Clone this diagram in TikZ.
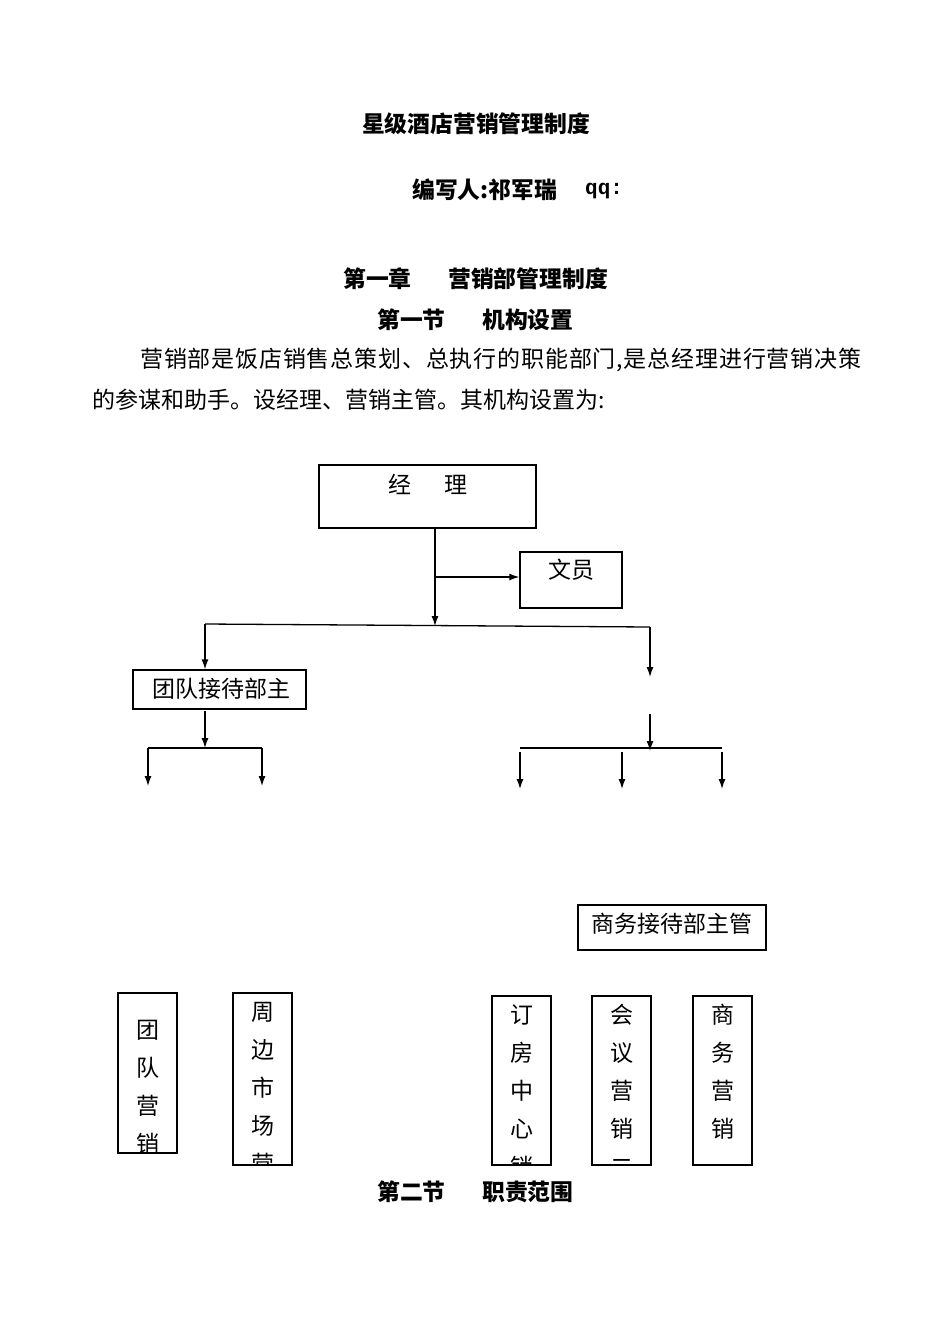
\documentclass[tikz,border=0pt]{standalone}
\usepackage{fontspec}
\setmainfont{Liberation Serif}
\newfontfamily\cjk{Noto Sans CJK SC}
\newfontfamily\cjkls{Noto Sans CJK SC}[LetterSpace=3.6]
\newfontfamily\monof{Liberation Mono}
\usetikzlibrary{arrows.meta,calc}
\tikzset{
  txt/.style={inner sep=0pt, font=\cjk\fontsize{23}{26}\selectfont},
  head/.style={inner sep=0pt, font=\cjk\bfseries\fontsize{22.8}{26}\selectfont},
  hbox/.style={draw, line width=1.3pt, inner sep=0pt},
  vbox/.style={draw, line width=1.3pt, inner sep=0pt, minimum width=59pt},
  con/.style={line width=1.3pt},
  arr/.style={line width=1.3pt, -{Latex[length=10pt,width=7pt]}},
}
\begin{document}
\begin{tikzpicture}[x=1pt,y=-1pt]
\useasboundingbox (0,0) rectangle (950,1344);
% headings
\node[head] (title) at (476,124) {星级酒店营销管理制度};
\node[head, anchor=west] (author) at (412,190) {编写人:祁军瑞};
\node[inner sep=0pt, anchor=west, font=\monof\bfseries\fontsize{21}{26}\selectfont] (qq) at (585,191) {qq:};
\node[head, anchor=west] (ch1a) at (343,279) {第一章};
\node[head, anchor=west] (ch1b) at (448,279) {营销部管理制度};
\node[head, anchor=west] (s1a) at (377,320) {第一节};
\node[head, anchor=west] (s1b) at (482,320) {机构设置};
\node[inner sep=0pt, anchor=west, font=\cjkls\fontsize{23}{26}\selectfont] (p1) at (140,360) {营销部是饭店销售总策划、总执行的职能部门,是总经理进行营销决策};
\node[txt, anchor=west] (p2) at (92,400) {的参谋和助手。设经理、营销主管。其机构设置为:};
% manager
\node[hbox, minimum width=217pt, minimum height=63pt] (jl) at (427.5,496.5) {};
\node[txt] (jlt) at (428,484) {经\hspace{33pt}理};
\node[hbox, minimum width=102pt, minimum height=56pt] (wy) at (571,580) {};
\node[txt] (wyt) at (571,570) {文员};
\coordinate (top) at (435,528);
\coordinate (mid) at (435,626);
\coordinate (wyj) at (435,577);
\draw[arr] (top) -- (mid);
\draw[arr] (wyj) -- (wy.west |- wyj);
\coordinate (hl) at (205,624);
\coordinate (hr) at (650,627);
\draw[con] (hl) -- (hr);
% group reception
\node[hbox, minimum width=173pt, minimum height=39pt] (td) at (219.5,689.5) {};
\node[txt] (tdt) at (221,689) {团队接待部主};
\draw[arr] (hl) -- (td.north -| hl);
\coordinate (rend) at (650,677);
\draw[arr] (hr) -- (rend);
\coordinate (tdb) at (205,711);
\coordinate (tdj) at (205,748);
\draw[arr] (tdb) -- (tdj);
\coordinate (l1) at (148,748);
\coordinate (l2) at (262,748);
\draw[con] (l1) -- (l2);
\coordinate (l1e) at (148,786);
\coordinate (l2e) at (262,786);
\draw[arr] (l1) -- (l1e);
\draw[arr] (l2) -- (l2e);
% business branch
\coordinate (rs) at (650,714);
\coordinate (rj) at (650,751);
\draw[arr] (rs) -- (rj);
\coordinate (r1) at (520,748);
\coordinate (r3) at (722,748);
\draw[con] (r1) -- (r3);
\coordinate (r1s) at (520,752);
\coordinate (r2s) at (622,752);
\coordinate (r3s) at (722,752);
\coordinate (r1e) at (520,789);
\coordinate (r2e) at (622,789);
\coordinate (r3e) at (722,789);
\draw[arr] (r1s) -- (r1e);
\draw[arr] (r2s) -- (r2e);
\draw[arr] (r3s) -- (r3e);
\node[hbox, minimum width=188pt, minimum height=45pt] (sw) at (672,927.5) {};
\node[txt] (swt) at (672,924) {商务接待部主管};
% bottom boxes
\node[vbox, minimum height=160pt] (b1) at (147.5,1073) {};
\begin{scope}
\clip (b1.north west) rectangle (b1.south east);
\foreach \c [count=\i] in {团,队,营,销}
  \node[txt] (b1c\i) at (147.5,992+38*\i) {\c};
\end{scope}
\node[vbox, minimum height=172pt] (b2) at (262.5,1079) {};
\begin{scope}
\clip (b2.north west) rectangle (b2.south east);
\foreach \c [count=\i] in {周,边,市,场,营}
  \node[txt] (b2c\i) at (262.5,974+38*\i) {\c};
\end{scope}
\node[vbox, minimum height=169pt] (b3) at (521.5,1080.5) {};
\begin{scope}
\clip (b3.north west) rectangle (b3.south east);
\foreach \c [count=\i] in {订,房,中,心,销}
  \node[txt] (b3c\i) at (521.5,977+38*\i) {\c};
\end{scope}
\node[vbox, minimum height=169pt] (b4) at (621.5,1080.5) {};
\begin{scope}
\clip (b4.north west) rectangle (b4.south east);
\foreach \c [count=\i] in {会,议,营,销,二}
  \node[txt] (b4c\i) at (621.5,977+38*\i) {\c};
\end{scope}
\node[vbox, minimum height=169pt] (b5) at (722.5,1080.5) {};
\foreach \c [count=\i] in {商,务,营,销}
  \node[txt] (b5c\i) at (722.5,977+38*\i) {\c};
% section 2
\node[head, anchor=west] (s2a) at (377,1192) {第二节};
\node[head, anchor=west] (s2b) at (482,1192) {职责范围};
\end{tikzpicture}
\end{document}
